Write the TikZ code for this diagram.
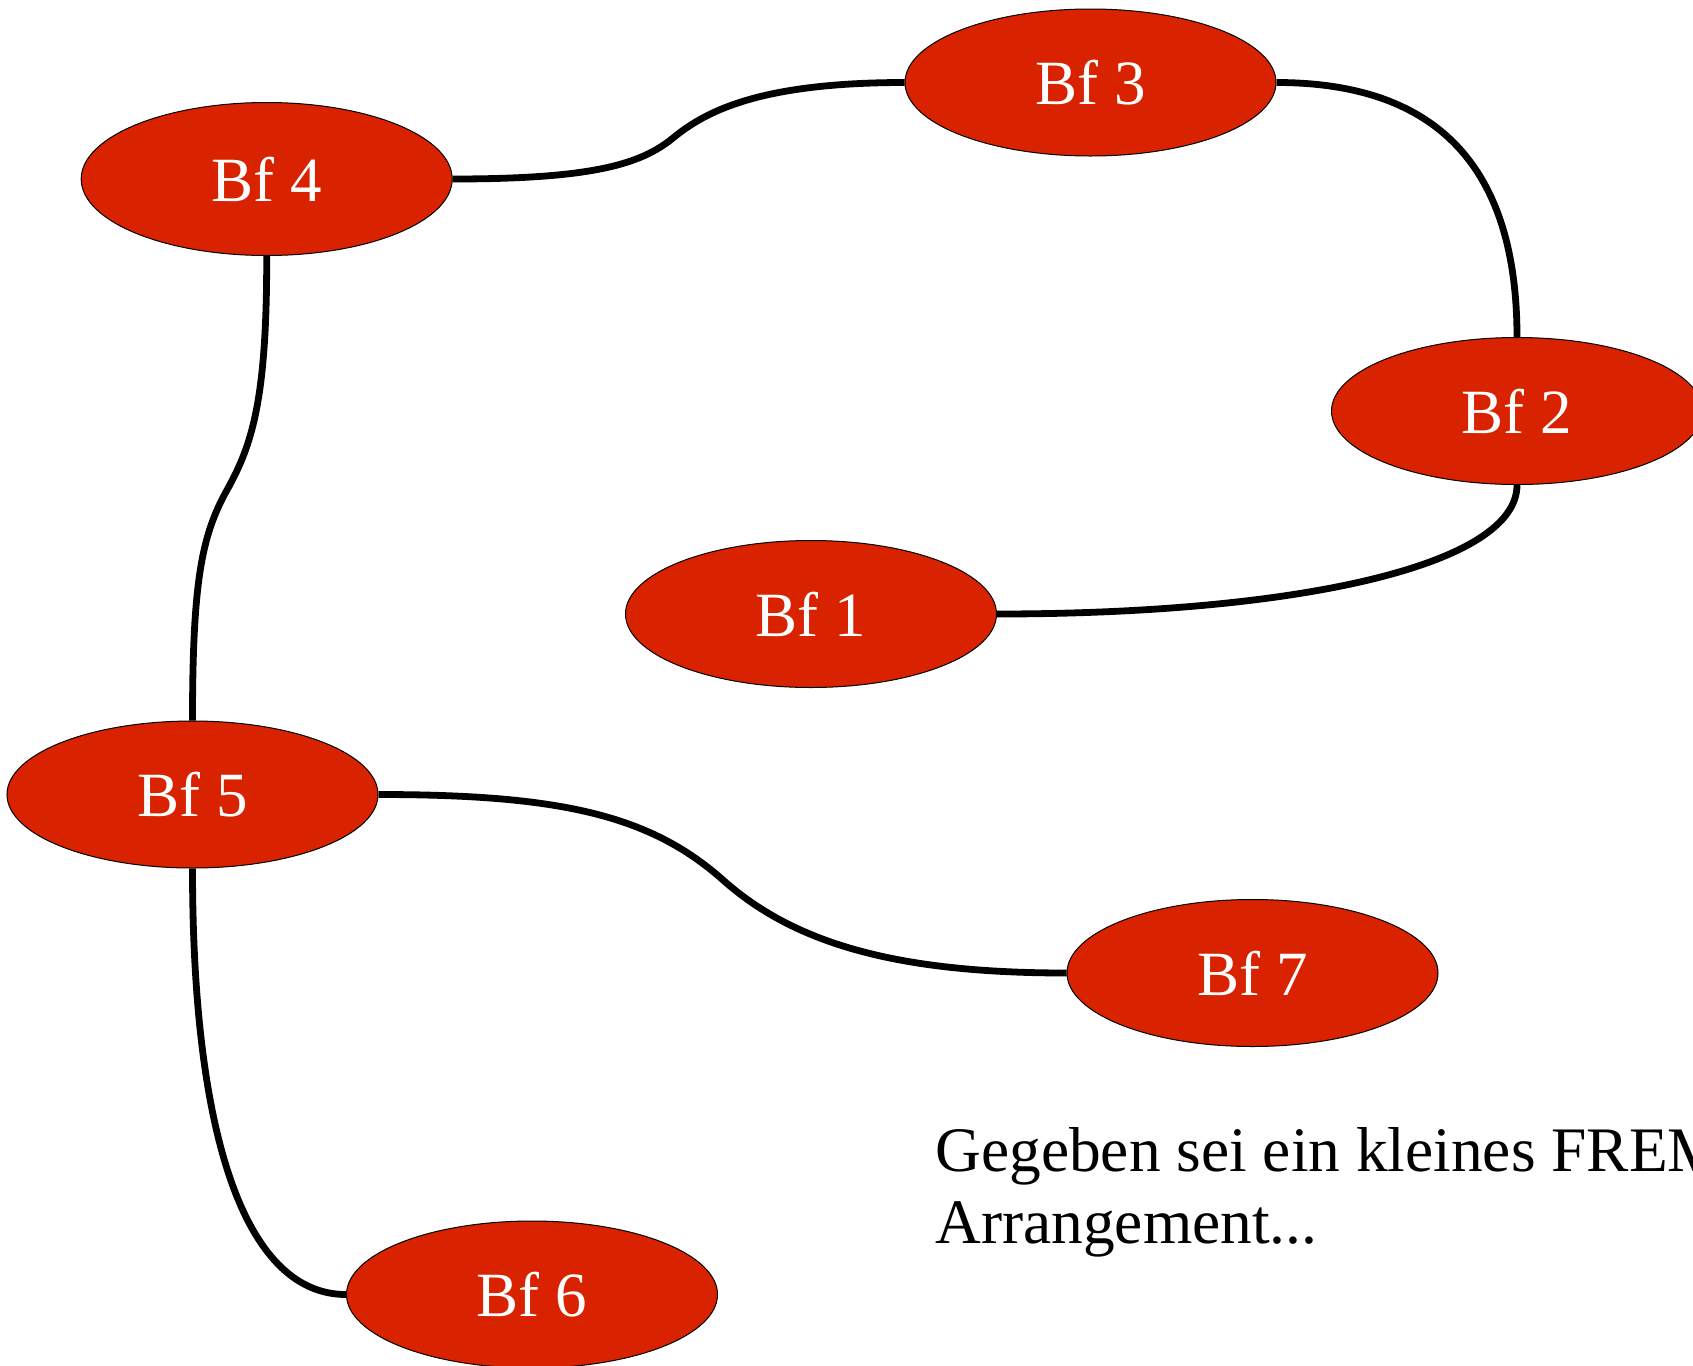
\documentclass[tikz,border=0pt]{standalone}
\usepackage{fontspec}
\setmainfont{Liberation Serif}
\usetikzlibrary{shapes.geometric}
\definecolor{bfred}{RGB}{217,35,0}
\tikzset{
  bf/.style={ellipse, draw=black, line width=0.5pt, fill=bfred, text=white,
    minimum width=185.5pt, minimum height=73.5pt, inner sep=0pt,
    font=\fontsize{31.5}{34}\selectfont},
  link/.style={draw=black, line width=3.4pt}
}
\begin{document}
\begin{tikzpicture}[x=0.5pt,y=-0.5pt]
\useasboundingbox (0,0) rectangle (1693,1366);
\node[bf] (b1) at (811,614) {Bf 1};
\node[bf] (b2) at (1517,411) {Bf 2};
\node[bf] (b3) at (1090.5,82.5) {Bf 3};
\node[bf, minimum height=76.5pt] (b4) at (266.7,179) {Bf 4};
\node[bf] (b5) at (192.5,794.5) {Bf 5};
\node[bf] (b6) at (532,1294.5) {Bf 6};
\node[bf] (b7) at (1252.5,973) {Bf 7};
\path[link] (b4.east) .. controls (590,179) and (640,165) .. (673,138)
  .. controls (706,111) and (760,82.5) .. (b3.west);
\path[link] (b3.east) .. controls (1440,82.5) and (1517,170) .. (b2.north);
\path[link] (b2.south) .. controls (1517,565) and (1300,614) .. (b1.east);
\path[link] (b4.south) .. controls (267,400) and (252,445) .. (227,490)
  .. controls (202,535) and (192.5,580) .. (b5.north);
\path[link] (b5.east) .. controls (560,794.5) and (650,815) .. (723,880)
  .. controls (796,945) and (900,973) .. (b7.west);
\path[link] (b5.south) .. controls (192.5,1150) and (250,1294.5) .. (b6.west);
\node[anchor=base west, align=left, inner sep=0pt,
  font=\fontsize{31.7}{35.9}\selectfont] (txt) at (935,1243)
  {Gegeben sei ein kleines FREM\\Arrangement...};
\end{tikzpicture}
\end{document}
